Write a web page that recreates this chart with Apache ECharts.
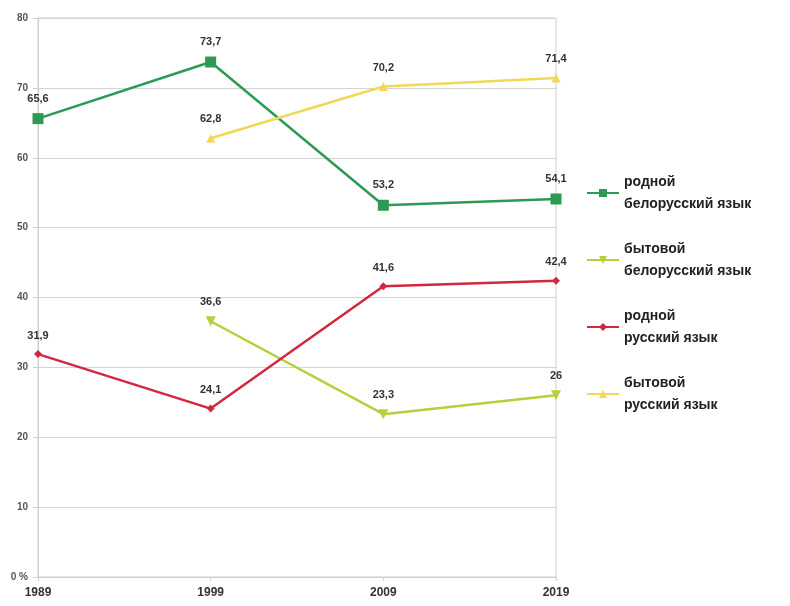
<!DOCTYPE html>
<html>
<head>
<meta charset="utf-8">
<script src="https://cdn.jsdelivr.net/npm/echarts@6/dist/echarts.min.js"></script>
<style>
html,body{margin:0;padding:0;background:#fff;}
#chart{width:790px;height:606px;}
</style>
</head>
<body>
<div id="chart"></div>
<script>
var years = ['1989', '1999', '2009', '2019'];
var yTicks = [0, 10, 20, 30, 40, 50, 60, 70, 80];
var nativeBelarusian = [65.6, 73.7, 53.2, 54.1];
var dailyBelarusian = [null, 36.6, 23.3, 26];
var nativeRussian = [31.9, 24.1, 41.6, 42.4];
var dailyRussian = [null, 62.8, 70.2, 71.4];
var seriesNames = ['родной\nбелорусский язык', 'бытовой\nбелорусский язык', 'родной\nрусский язык', 'бытовой\nрусский язык'];

var chart = echarts.init(document.getElementById('chart'));
function fmt(p) { return String(p.value).replace('.', ','); }
function mk(name, data, color, symbol, size) {
  return {
    name: name, type: 'line', data: data,
    connectNulls: false,
    symbol: symbol, symbolSize: size,
    lineStyle: { color: color, width: 2.5 },
    itemStyle: { color: color },
    label: { show: true, position: 'top', distance: 9, formatter: fmt,
             color: '#333', fontSize: 11, fontFamily: 'Liberation Sans, Arial', fontWeight: 'bold' },
    emphasis: { disabled: true }
  };
}
chart.setOption({
  animation: false,
  backgroundColor: '#fff',
  grid: { left: 38, right: 234, top: 18, bottom: 29, show: true, borderColor: '#cfcfcf', borderWidth: 1, backgroundColor: 'transparent' },
  xAxis: {
    type: 'category', data: years, boundaryGap: false,
    axisLine: { lineStyle: { color: '#cfcfcf' } },
    axisTick: { show: true, length: 4, lineStyle: { color: '#cfcfcf' } },
    axisLabel: { color: '#333', fontSize: 12, fontWeight: 'bold', fontFamily: 'Liberation Sans, Arial', margin: 10 },
    splitLine: { show: false }
  },
  yAxis: {
    type: 'value', min: yTicks[0], max: yTicks[yTicks.length - 1], interval: 10,
    axisLine: { show: true, lineStyle: { color: '#cfcfcf' } },
    axisTick: { show: true, length: 5, lineStyle: { color: '#cfcfcf' } },
    axisLabel: { color: '#555', fontSize: 10, fontWeight: 'bold', fontFamily: 'Liberation Sans, Arial', margin: 10,
                 formatter: function (v) { return v === 0 ? '0 %' : String(v); } },
    splitLine: { lineStyle: { color: '#d4d4d4' } }
  },
  legend: {
    orient: 'vertical', left: 581, top: 166, itemGap: 23,
    itemWidth: 32, itemHeight: 10,
    textStyle: { color: '#222', fontSize: 14, fontWeight: 'bold', fontFamily: 'Liberation Sans, Arial', lineHeight: 22 },
    data: seriesNames
  },
  series: [
    mk(seriesNames[0], nativeBelarusian, '#2e9955', 'rect', 11),
    mk(seriesNames[1], dailyBelarusian, '#b8cf3a', 'path://M0,0 L10,0 L5,10 Z', 10),
    mk(seriesNames[2], nativeRussian, '#d2283f', 'diamond', 8),
    mk(seriesNames[3], dailyRussian, '#f0d858', 'triangle', 9)
  ]
});
</script>
</body>
</html>
